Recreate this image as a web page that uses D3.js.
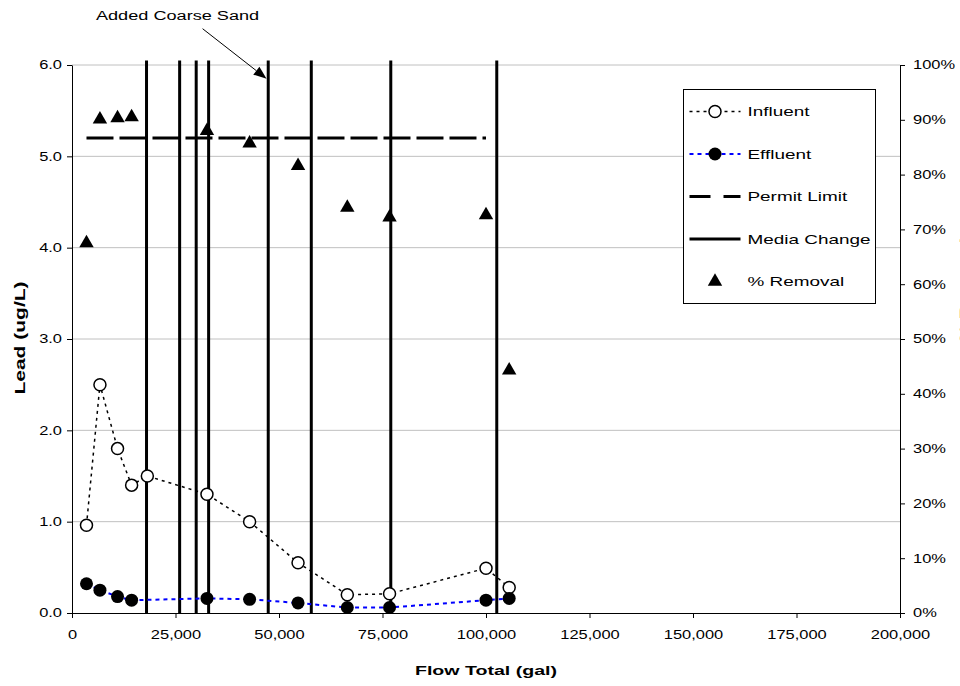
<!DOCTYPE html>
<html>
<head>
<meta charset="utf-8">
<script src="https://cdn.jsdelivr.net/npm/d3@7"></script>
<style>
  body { margin: 0; background: #fff; }
  svg { display: block; font-family: "Liberation Sans", Arial, sans-serif; }
</style>
</head>
<body>
<svg id="chart" width="960" height="686"></svg>
<script>
// sample points
const flow = [3500, 6750, 11000, 14400, 18200, 32600, 42900, 54600, 66500, 76700, 100000, 105600];
const influent = [0.96, 2.50, 1.80, 1.40, 1.50, 1.30, 1.00, 0.55, 0.20, 0.21, 0.49, 0.28];
const effluent = [0.32, 0.25, 0.18, 0.14, null, 0.16, 0.15, 0.11, 0.06, 0.06, 0.14, 0.16];
const removal = [0.675, 0.901, 0.903, 0.905, null, 0.880, 0.857, 0.816, 0.740, 0.722, 0.726, 0.443];

const mediaChange = [18000, 26000, 30000, 33000, 47400, 57800, 77000, 102600];
const mediaTop = 6.05;
const permitLimit = 5.2;
const permitFlow = [3500, 100000];

const xTickValues = [0, 25000, 50000, 75000, 100000, 125000, 150000, 175000, 200000];
const yTickValues = [0, 1, 2, 3, 4, 5, 6];
const y2TickValues = [0, 0.1, 0.2, 0.3, 0.4, 0.5, 0.6, 0.7, 0.8, 0.9, 1];

const noteText = "Added Coarse Sand";
const noteTip = [47000, 5.85];

const legendItems = ["Influent", "Effluent", "Permit Limit", "Media Change", "% Removal"];

const svg = d3.select("#chart");

const x = d3.scaleLinear().domain([0, 200000]).range([72, 900]);
const y = d3.scaleLinear().domain([0, 6]).range([613, 65]);
const y2 = d3.scaleLinear().domain([0, 1]).range([613, 65]);

// the original text is drawn wide, so stretch glyphs horizontally
function widen(sel, k) {
    sel.each(function () {
        const w = this.getComputedTextLength();
        this.setAttribute("textLength", w * k);
        this.setAttribute("lengthAdjust", "spacingAndGlyphs");
    });
}

// grid
svg.append("g")
    .selectAll("line")
    .data(yTickValues.filter(d => d > 0))
    .join("line")
    .attr("x1", x(0)).attr("x2", x(200000))
    .attr("y1", d => y(d)).attr("y2", d => y(d))
    .attr("stroke", "#c0c0c0")
    .attr("stroke-width", 1);

// axes
const xAxis = svg.append("g")
    .attr("transform", `translate(0,${y(0)})`)
    .call(d3.axisBottom(x).tickValues(xTickValues).tickFormat(d3.format(",")).tickSize(5).tickSizeOuter(0).tickPadding(12));
const yAxis = svg.append("g")
    .attr("transform", `translate(${x(0)},0)`)
    .call(d3.axisLeft(y).tickValues(yTickValues).tickFormat(d3.format(".1f")).tickSize(5).tickSizeOuter(0).tickPadding(5));
const y2Axis = svg.append("g")
    .attr("transform", `translate(${x(200000)},0)`)
    .call(d3.axisRight(y2).tickValues(y2TickValues).tickFormat(d3.format(".0%")).tickSize(5).tickSizeOuter(0).tickPadding(8));

[xAxis, yAxis, y2Axis].forEach(a => {
    a.attr("font-family", null).attr("font-size", null);
    a.selectAll("text").attr("font-size", 12).attr("fill", "#000");
    a.selectAll("line, path").attr("stroke", "#000");
    widen(a.selectAll("text"), 1.37);
});

// permit limit
svg.append("line")
    .attr("x1", x(permitFlow[0])).attr("x2", x(permitFlow[1]))
    .attr("y1", y(permitLimit)).attr("y2", y(permitLimit))
    .attr("stroke", "#000")
    .attr("stroke-width", 3)
    .attr("stroke-dasharray", "27,6");

// media changes
svg.append("g")
    .selectAll("line")
    .data(mediaChange)
    .join("line")
    .attr("x1", d => x(d)).attr("x2", d => x(d))
    .attr("y1", y(0)).attr("y2", y(mediaTop))
    .attr("stroke", "#000")
    .attr("stroke-width", 3);

const inf = flow.map((f, i) => ({ f, v: influent[i] }));
const eff = flow.map((f, i) => ({ f, v: effluent[i] })).filter(d => d.v != null);
const rem = flow.map((f, i) => ({ f, v: removal[i] })).filter(d => d.v != null);

const line = d3.line().x(d => x(d.f)).y(d => y(d.v));

svg.append("path")
    .datum(inf)
    .attr("d", line)
    .attr("fill", "none")
    .attr("stroke", "#000")
    .attr("stroke-width", 1.5)
    .attr("stroke-dasharray", "3,4");

svg.append("path")
    .datum(eff)
    .attr("d", line)
    .attr("fill", "none")
    .attr("stroke", "#0000ff")
    .attr("stroke-width", 2)
    .attr("stroke-dasharray", "4,4");

svg.append("g")
    .selectAll("circle")
    .data(inf)
    .join("circle")
    .attr("cx", d => x(d.f)).attr("cy", d => y(d.v))
    .attr("r", 6)
    .attr("fill", "#fff")
    .attr("stroke", "#000")
    .attr("stroke-width", 1.5);

svg.append("g")
    .selectAll("circle")
    .data(eff)
    .join("circle")
    .attr("cx", d => x(d.f)).attr("cy", d => y(d.v))
    .attr("r", 6.5)
    .attr("fill", "#000");

const tri = d3.symbol().type(d3.symbolTriangle).size(90);
svg.append("g")
    .selectAll("path")
    .data(rem)
    .join("path")
    .attr("transform", d => `translate(${x(d.f)},${y2(d.v)})`)
    .attr("d", tri)
    .attr("fill", "#000");

// axis titles
const titles = svg.append("g")
    .attr("font-weight", "bold")
    .attr("text-anchor", "middle");
const xTitle = titles.append("text")
    .attr("x", 486).attr("y", 675)
    .attr("font-size", 13.5)
    .text("Flow Total (gal)");
widen(xTitle, 1.45);
const yTitle = titles.append("text")
    .attr("transform", "translate(25,338) rotate(-90)")
    .attr("font-size", 14)
    .text("Lead (ug/L)");
widen(yTitle, 1.5);
const y2Title = titles.append("text")
    .attr("transform", "translate(969,290) rotate(-90)")
    .attr("font-size", 13.5)
    .text("% Removal");
widen(y2Title, 1.45);

// annotation
const tip = [x(noteTip[0]), y(noteTip[1])];
const tail = [tip[0] - 64, tip[1] - 50];
const ang = Math.atan2(tip[1] - tail[1], tip[0] - tail[0]);
const hl = 13, hw = 5;
const base = [tip[0] - hl * Math.cos(ang), tip[1] - hl * Math.sin(ang)];
svg.append("line")
    .attr("x1", tail[0]).attr("y1", tail[1])
    .attr("x2", base[0]).attr("y2", base[1])
    .attr("stroke", "#000")
    .attr("stroke-width", 1);
svg.append("path")
    .attr("d", d3.line()([
        tip,
        [base[0] + hw * Math.sin(ang), base[1] - hw * Math.cos(ang)],
        [base[0] - hw * Math.sin(ang), base[1] + hw * Math.cos(ang)]
    ]) + "Z")
    .attr("fill", "#000");
const note = svg.append("text")
    .attr("x", tail[0] - 25).attr("y", tail[1] - 9)
    .attr("text-anchor", "middle")
    .attr("font-size", 12.5)
    .text(noteText);
widen(note, 1.45);

// legend
const lg = svg.append("g").attr("transform", "translate(683.5,89.5)");
lg.append("rect")
    .attr("width", 192).attr("height", 214)
    .attr("fill", "#fff")
    .attr("stroke", "#000")
    .attr("stroke-width", 1);

const rowY = i => 22 + i * 42.5;
const sx0 = 6, sx1 = 57, smid = 31.5;

lg.append("line").attr("x1", sx0).attr("x2", sx1).attr("y1", rowY(0)).attr("y2", rowY(0))
    .attr("stroke", "#000").attr("stroke-width", 1.5).attr("stroke-dasharray", "3,4");
lg.append("circle").attr("cx", smid).attr("cy", rowY(0)).attr("r", 6)
    .attr("fill", "#fff").attr("stroke", "#000").attr("stroke-width", 1.5);

lg.append("line").attr("x1", sx0).attr("x2", sx1).attr("y1", rowY(1)).attr("y2", rowY(1))
    .attr("stroke", "#0000ff").attr("stroke-width", 2).attr("stroke-dasharray", "4,4");
lg.append("circle").attr("cx", smid).attr("cy", rowY(1)).attr("r", 6.5).attr("fill", "#000");

lg.append("line").attr("x1", sx0).attr("x2", sx1).attr("y1", rowY(2)).attr("y2", rowY(2))
    .attr("stroke", "#000").attr("stroke-width", 3).attr("stroke-dasharray", "21,13");

lg.append("line").attr("x1", sx0).attr("x2", sx1).attr("y1", rowY(3)).attr("y2", rowY(3))
    .attr("stroke", "#000").attr("stroke-width", 3);

lg.append("path").attr("transform", `translate(${smid},${rowY(4)})`).attr("d", tri).attr("fill", "#000");

const lt = lg.append("g")
    .selectAll("text")
    .data(legendItems)
    .join("text")
    .attr("x", 64)
    .attr("y", (d, i) => rowY(i))
    .attr("dy", "0.35em")
    .attr("font-size", 13.5)
    .text(d => d);
widen(lt, 1.4);
</script>
</body>
</html>
